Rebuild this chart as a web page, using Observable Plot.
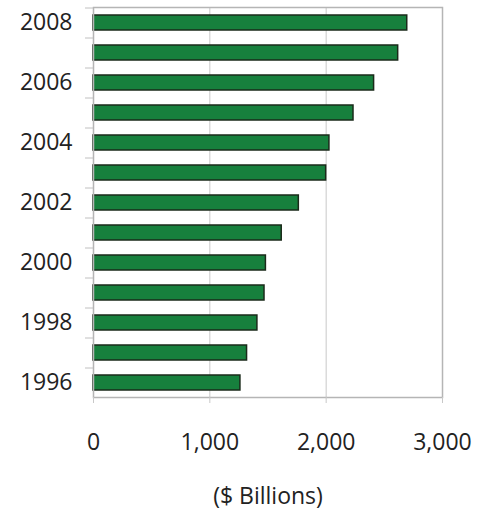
<!DOCTYPE html>
<html>
<head>
<meta charset="utf-8">
<script src="https://cdn.jsdelivr.net/npm/d3@7"></script>
<script src="https://cdn.jsdelivr.net/npm/@observablehq/plot@0.6"></script>
<style>
  html, body { margin: 0; padding: 0; background: #fff; }
  #chart svg { display: block; }
</style>
</head>
<body>
<div id="chart"></div>
<script>
const years = [2008, 2007, 2006, 2005, 2004, 2003, 2002, 2001, 2000, 1999, 1998, 1997, 1996];
const values = [2697, 2619, 2412, 2235, 2028, 2000, 1765, 1618, 1482, 1470, 1409, 1320, 1263];
const labeledYears = [2008, 2006, 2004, 2002, 2000, 1998, 1996];
const xTicks = [0, 1000, 2000, 3000];
const xLabel = "($ Billions)";

const data = years.map((y, i) => ({year: y, value: values[i]}));

const chart = Plot.plot({
  width: 487,
  height: 510,
  marginLeft: 93,
  marginRight: 45,
  marginTop: 7,
  marginBottom: 113,
  style: {fontFamily: "'Open Sans', sans-serif", fontSize: "23px", color: "#222", background: "#fff"},
  x: {domain: [0, 3000], label: null},
  y: {domain: years, paddingInner: 0.5, paddingOuter: 0.25, label: null},
  marks: [
    Plot.gridX(xTicks.slice(1, 3), {stroke: "#c8c8c8", strokeOpacity: 1}),
    Plot.barX(data, {y: "year", x: "value", fill: "#17803d", stroke: "#1a2a1a", strokeWidth: 1.5}),
    Plot.frame({stroke: "#b5b5b5", strokeWidth: 1.5}),
    Plot.axisY({ticks: years, tickSize: 8, text: null, label: null, dy: -15, stroke: "#c0c0c0"}),
    Plot.axisY({ticks: labeledYears, tickSize: 0, tickPadding: 21, label: null, tickFormat: d => String(d), fill: "#222"}),
    Plot.axisX({ticks: xTicks, tickSize: 6, stroke: "#c8c8c8", tickPadding: 30, tickFormat: d3.format(","), label: null, fill: "#222"}),
    Plot.text([xLabel], {frameAnchor: "bottom", dy: 106, fill: "#222", fontSize: 23})
  ]
});
document.getElementById("chart").appendChild(chart);
</script>
</body>
</html>
